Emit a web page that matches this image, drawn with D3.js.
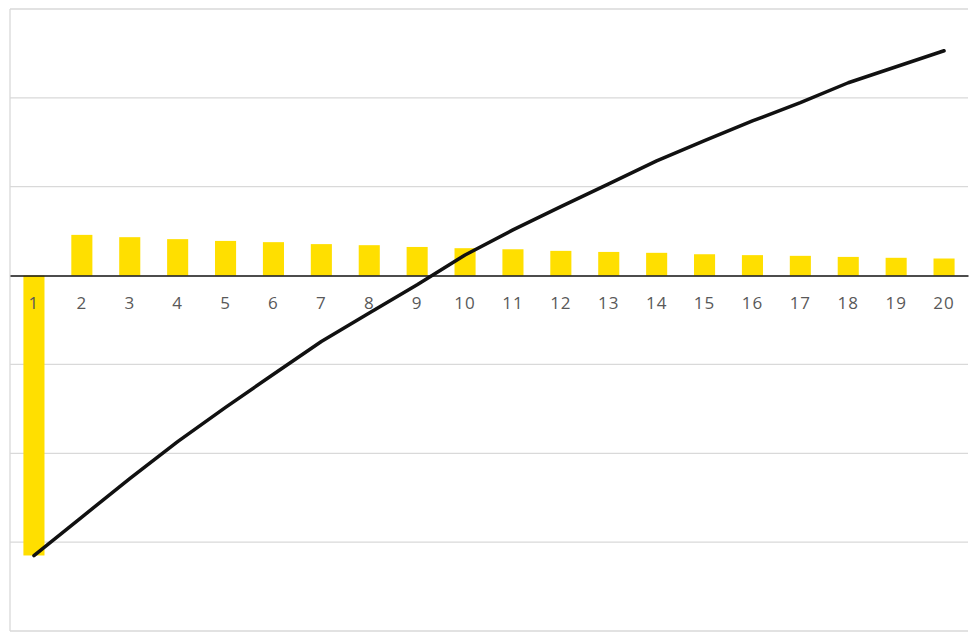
<!DOCTYPE html>
<html>
<head>
<meta charset="utf-8">
<script src="https://cdn.jsdelivr.net/npm/d3@7"></script>
<style>
  body { margin: 0; background: #fff; }
  svg { display: block; }
  .tick text { font-family: "Open Sans", sans-serif; font-size: 17px; fill: #595959; letter-spacing: 1px; }
</style>
</head>
<body>
<svg id="chart" width="978" height="637"></svg>
<script>
// periods on the x axis
var periods = ["1","2","3","4","5","6","7","8","9","10","11","12","13","14","15","16","17","18","19","20"];
// yearly cash flow (bars)
var flows = [-157.5, 22.9, 21.6, 20.5, 19.5, 18.8, 17.7, 17.1, 16.1, 15.4, 14.8, 13.9, 13.3, 12.8, 12.0, 11.5, 11.1, 10.5, 10.0, 9.6];
// cumulative position (line)
var cumulative = [-157.6, -135.9, -114.2, -93.4, -74.2, -55.5, -37.1, -21.1, -5.2, 11.6, 25.7, 38.8, 51.6, 64.5, 75.9, 87.0, 97.3, 108.5, 117.5, 126.5];
// horizontal gridlines
var gridValues = [-200, -150, -100, -50, 50, 100, 150];

// plot edges (note: "top" is taken by window.top)
var plotLeft = 10, plotRight = 968, plotTop = 9, plotBottom = 631;

var svg = d3.select("#chart");

var x = d3.scaleBand()
    .domain(periods)
    .range([plotLeft, plotRight])
    .paddingInner(0.56)
    .paddingOuter(0.28);

var y = d3.scaleLinear()
    .domain([-200, 150])
    .range([plotBottom, plotTop]);

function cx(d) { return x(d) + x.bandwidth() / 2; }

// gridlines
svg.append("g").selectAll("line").data(gridValues).enter().append("line")
    .attr("x1", plotLeft).attr("x2", plotRight)
    .attr("y1", (d) => y(d)).attr("y2", (d) => y(d))
    .attr("stroke", "#d9d9d9").attr("stroke-width", 1.3);

// left frame line
svg.append("line")
    .attr("x1", plotLeft).attr("x2", plotLeft)
    .attr("y1", y(150)).attr("y2", y(-200))
    .attr("stroke", "#d9d9d9").attr("stroke-width", 1.3);

// bars
svg.append("g").selectAll("rect").data(flows).enter().append("rect")
    .attr("x", (d, i) => x(periods[i]))
    .attr("width", x.bandwidth())
    .attr("y", (d) => y(Math.max(0, d)))
    .attr("height", (d) => Math.abs(y(d) - y(0)))
    .attr("fill", "#ffdf00");

// zero axis with category labels
var axis = svg.append("g")
    .attr("transform", "translate(0," + y(0) + ")")
    .call(d3.axisBottom(x).tickSize(0).tickPadding(21));
axis.select(".domain")
    .attr("stroke", "#111").attr("stroke-width", 1.6);

// cumulative line
var line = d3.line()
    .x((d, i) => cx(periods[i]))
    .y((d) => y(d));

svg.append("path")
    .datum(cumulative)
    .attr("d", line)
    .attr("fill", "none")
    .attr("stroke", "#111")
    .attr("stroke-width", 3.5)
    .attr("stroke-linecap", "round")
    .attr("stroke-linejoin", "round");
</script>
</body>
</html>
